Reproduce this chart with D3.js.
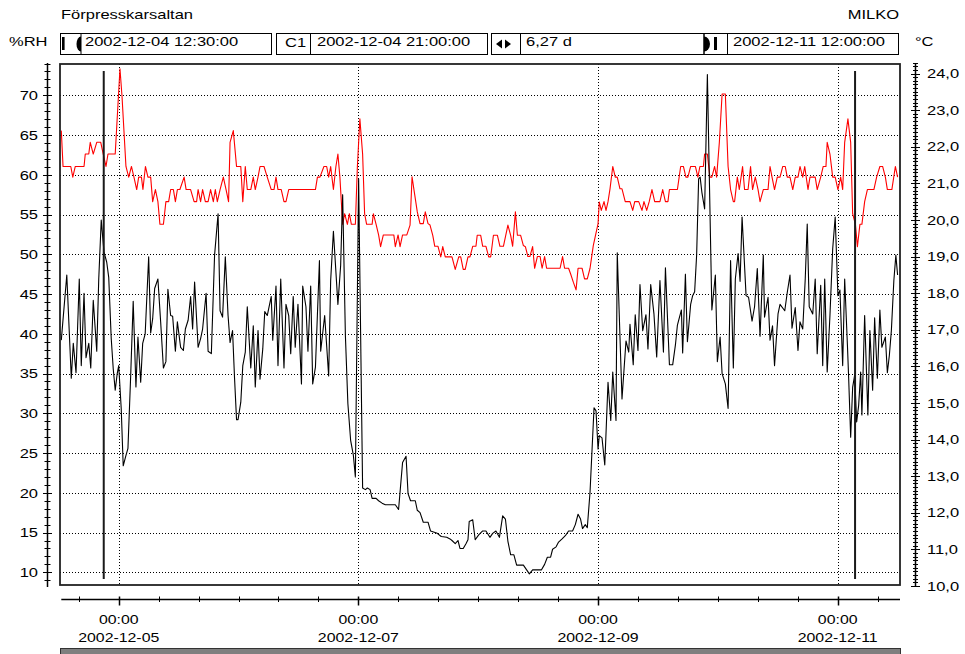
<!DOCTYPE html>
<html>
<head>
<meta charset="utf-8">
<script src="https://cdn.jsdelivr.net/npm/d3@7"></script>
<style>
  html, body { margin: 0; padding: 0; background: #fff; }
  svg { display: block; font-family: "Liberation Sans", Arial, sans-serif; }
</style>
</head>
<body>
<svg id="chart" width="965" height="654"></svg>
<script>
// ---- Logger session: Förpresskarsaltan / MILKO ----
const roomName = "Förpresskarsaltan";
const siteName = "MILKO";
const startStamp = "2002-12-04 12:30:00";
const endStamp = "2002-12-11 12:00:00";
const cursorStamp = "2002-12-04 21:00:00";
const cursorSpanDays = 6.27;

// Hours counted from 2002-12-04 00:00
const rhHours = [12.5,13.6,14.5,14.9,15.45,16.1,16.5,17.05,17.45,18.0,18.4,18.9,19.6,20.0,20.5,21.05,21.6,22.0,22.5,22.9,23.3,23.7,24.0,24.5,24.9,25.45,25.85,26.4,26.9,27.45,27.85,28.4,28.8,29.3,30.0,30.4,30.8,31.2,31.85,32.4,32.95,33.45,33.85,34.4,34.8,35.35,35.75,36.4,36.95,37.35,37.9,38.4,38.8,39.2,39.9,40.4,40.8,41.5,41.9,42.55,43.2,43.9,44.3,44.8,45.35,45.9,46.3,46.8,47.2,47.6,47.9,48.45,48.85,49.35,49.75,50.45,50.95,51.35,51.9,52.3,52.85,53.25,53.75,54.55,54.85,55.5,55.9,56.45,57.1,57.5,58.05,58.45,58.95,59.35,59.9,60.6,60.85,61.5,61.9,62.45,62.85,63.4,64.2,64.45,65.25,66.05,66.45,67.0,67.9,68.45,68.85,69.4,69.9,70.45,71.0,71.4,72.05,72.85,73.4,73.8,74.35,74.75,75.55,76.05,76.75,77.4,79.4,80.05,80.85,81.55,81.95,82.45,83.4,83.8,84.35,85.0,85.95,86.45,87.8,88.6,89.7,90.35,90.75,91.4,91.95,92.35,93.0,93.55,93.95,94.2,94.9,95.4,96.1,96.9,97.55,98.35,98.9,99.55,100.25,100.9,101.45,101.95,102.5,103.15,103.7,105.05,105.7,106.25,106.9,108.65,109.3,109.85,110.5,110.9,111.6,112.1,112.8,113.45,114.1,114.9,115.45,116.0,116.5,116.9,117.45,117.85,118.4,119.2,119.6,120.0,120.25,120.8,121.35,122.0,122.55,122.95,123.6,123.85,124.8,125.6,126.15,126.4,127.05,127.45,128.0,128.4,128.95,129.6,130.0,130.55,131.2,131.75,132.4,133.1,133.5,134.3,134.95,135.5,135.9,136.7,136.95,137.5,137.9,138.55,138.95,139.35,139.75,140.15,140.45,140.8,141.35,141.9,142.8,143.5,143.9,144.45,144.85,145.5,146.05,146.55,147.1,147.5,148.05,148.45,148.85,149.65,150.15,150.85,151.35,151.9,152.45,153.1,153.35,154.05,154.45,154.95,155.35,156.05,156.45,157.4,157.9,158.45,158.85,159.5,160.05,160.45,161.0,161.5,161.9,162.3,163.0,163.5,163.9,164.6,165.0,165.4,165.9,166.45,167.0,167.5,168.05,168.45,169.0,169.4,169.95,170.2,170.6,171.0,171.4,171.8,172.2,172.6,172.85,173.4,174.05,174.45,175.0,175.4,175.95,176.45,176.85,177.55,177.95,178.35,178.75,179.25,179.65,180.0];
const rhValues = [39.2,47.4,34.4,38.8,35.1,46.9,36.0,45.1,37.0,38.8,35.7,44.2,37.8,46.9,54.3,50.3,49.0,47.1,39.4,35.6,32.9,35.0,36.0,30.6,23.4,24.7,25.6,34.8,44.1,33.3,39.6,33.9,38.8,40.0,49.7,40.1,41.9,45.7,46.9,41.5,35.7,36.5,45.6,42.3,42.2,37.8,41.5,38.3,37.9,40.6,41.7,44.7,40.6,46.5,38.3,39.4,40.6,45.1,37.8,37.5,49.9,55.1,42.9,42.1,49.7,42.3,38.9,40.4,34.4,29.2,29.2,31.4,36.0,37.7,43.4,35.7,41.0,33.3,40.4,34.3,38.1,42.8,42.3,44.7,39.2,46.0,36.0,46.9,35.7,43.7,42.3,37.5,44.7,38.3,43.7,33.7,46.0,43.4,37.8,46.0,33.7,35.8,49.2,37.8,42.3,34.7,46.7,52.9,43.7,48.6,57.5,39.8,31.2,26.6,24.7,22.0,59.5,20.6,20.4,20.6,20.4,19.3,19.3,19.0,18.7,18.5,18.5,17.9,23.8,24.6,19.9,19.0,19.0,17.8,17.5,16.3,16.3,15.2,14.9,14.5,14.4,14.2,14.0,13.6,14.0,13.0,13.0,13.6,14.1,16.4,16.6,14.1,14.7,15.2,15.2,14.4,14.9,15.2,14.4,17.1,16.7,13.9,12.2,12.2,10.9,10.9,10.3,9.8,10.3,10.3,11.0,11.9,11.9,12.9,13.2,13.8,14.2,14.6,15.2,15.2,16.0,17.3,16.7,15.5,16.0,15.6,20.1,30.7,30.3,25.5,27.2,26.9,23.5,33.9,29.1,35.2,29.1,50.2,31.8,39.1,37.7,41.2,36.1,42.4,37.9,46.2,40.4,42.4,38.1,46.2,42.5,37.1,46.7,37.7,48.3,36.1,36.1,38.6,41.1,43.0,37.6,47.5,39.0,43.7,44.8,45.3,49.9,59.5,59.7,57.8,55.7,72.6,43.0,47.4,36.5,39.6,35.0,33.7,30.6,49.2,35.7,46.9,50.1,46.6,54.7,44.8,44.6,41.6,43.4,48.2,39.7,49.9,42.1,44.6,39.2,41.0,36.0,42.5,43.7,42.9,45.2,47.4,40.7,43.3,37.9,41.5,40.6,46.9,53.8,43.4,42.5,46.9,37.5,46.1,36.0,46.9,35.2,42.3,50.7,54.7,44.8,45.5,36.0,46.9,38.6,34.4,27.0,33.3,34.8,28.9,31.0,35.2,29.8,42.3,29.8,40.4,32.9,42.0,34.4,43.0,38.3,39.6,35.1,37.3,40.4,46.7,49.9,47.4];

const tempHours = [12.5,12.85,14.4,14.8,15.3,17.05,17.3,18.0,18.3,18.9,19.6,20.4,20.9,21.45,21.85,23.3,24.25,24.65,25.45,26.0,26.55,27.05,27.6,28.0,28.55,28.85,29.35,29.85,30.4,30.8,31.35,31.85,32.25,32.95,33.45,34.0,34.4,34.95,35.35,35.75,36.25,37.1,37.5,38.4,39.1,39.6,39.9,40.4,40.8,41.35,41.9,42.4,42.95,43.35,43.75,44.3,44.95,45.5,46.0,46.3,46.95,47.6,48.45,48.85,49.35,49.75,50.45,50.95,51.35,51.9,52.3,53.1,53.75,54.55,55.1,55.5,55.9,56.55,57.1,57.5,58.05,63.4,63.8,64.3,65.1,65.65,66.05,66.45,67.0,67.5,67.9,68.3,68.85,69.25,69.8,70.2,70.6,71.4,71.8,72.3,72.85,73.25,73.65,74.2,74.75,75.0,75.55,76.05,76.45,77.0,79.1,79.4,79.95,80.35,80.85,81.7,82.35,82.75,83.25,83.8,84.35,85.0,85.4,85.95,86.35,86.9,87.3,87.95,88.5,88.9,89.4,90.75,91.4,92.1,92.5,93.0,93.4,93.95,94.35,94.9,95.55,95.8,96.5,96.9,97.55,98.1,98.5,99.05,99.85,100.35,101.05,101.95,102.5,102.9,103.45,103.85,104.5,105.05,105.45,105.95,106.35,106.9,107.3,107.85,108.4,108.8,109.3,109.7,112.4,112.9,113.3,114.1,114.5,115.05,115.6,116.0,116.8,117.3,117.85,118.4,119.05,119.7,120.0,120.25,120.65,121.2,121.6,122.0,122.4,122.95,123.45,123.85,124.4,124.8,125.45,126.4,126.95,127.35,128.15,128.8,129.2,129.75,130.25,130.8,131.35,132.4,132.95,133.5,134.0,134.3,135.9,136.55,137.1,137.6,138.0,138.55,139.5,140.0,140.4,141.1,141.35,141.9,142.4,142.8,143.35,143.75,144.3,144.85,145.5,146.05,146.55,147.1,147.35,147.9,148.3,148.95,149.35,150.05,150.55,150.95,151.5,152.05,152.45,153.1,154.05,154.45,154.85,155.35,155.9,156.45,157.0,157.5,157.9,158.45,159.0,159.5,160.05,160.45,161.0,161.4,162.05,162.45,163.5,163.9,164.6,165.1,165.65,165.9,166.45,167.0,167.5,168.05,168.6,169.0,169.4,170.05,170.6,171.0,171.55,171.95,172.45,172.85,173.4,173.95,175.25,175.8,176.45,177.0,177.55,177.95,178.85,179.55,180.0];
const tempValues = [22.44,21.46,21.46,21.17,21.46,21.46,21.80,21.80,22.12,21.80,22.12,22.12,21.80,21.46,21.80,21.80,24.13,23.40,21.46,21.17,21.46,21.17,20.83,21.17,21.17,20.83,21.46,21.17,21.17,20.50,20.83,20.50,19.88,19.88,20.50,20.50,20.83,20.83,20.50,20.83,20.83,21.17,20.83,20.83,20.50,20.50,20.83,20.50,20.83,20.50,20.50,20.83,20.50,20.83,20.50,20.83,21.17,20.83,20.50,22.12,22.44,21.46,21.46,20.50,21.46,20.83,20.83,21.17,20.83,21.17,21.46,21.46,21.17,20.83,20.83,21.17,20.83,20.83,20.50,20.50,20.83,20.83,21.17,21.17,21.46,21.46,21.17,21.46,20.83,21.46,21.80,21.17,19.88,20.17,19.88,20.17,19.88,19.88,21.46,22.76,21.80,20.17,19.88,19.88,19.88,20.17,19.88,19.59,19.27,19.59,19.59,19.27,19.59,19.27,19.59,19.59,19.86,21.18,20.72,20.22,19.90,19.90,20.22,19.90,19.86,19.58,19.28,19.28,18.99,19.27,18.99,18.99,18.65,18.99,18.99,18.65,18.65,18.99,18.99,19.28,19.28,19.58,19.58,19.28,19.28,18.99,18.99,19.58,19.58,19.28,19.28,19.86,19.58,19.28,20.22,19.58,19.58,19.30,19.27,19.00,19.00,19.27,18.68,19.00,19.00,18.68,19.00,18.68,18.68,19.00,18.68,18.68,18.53,18.30,18.09,18.68,18.68,18.39,18.39,18.68,19.30,19.71,19.89,20.49,20.26,20.50,20.26,20.50,20.85,21.46,21.17,21.17,20.85,20.85,20.50,20.50,20.26,20.50,20.50,20.26,20.50,20.26,20.50,20.83,20.50,20.50,20.83,20.50,20.50,20.83,20.83,21.46,21.46,21.17,21.17,21.46,21.46,21.17,21.46,21.46,21.80,21.80,21.17,21.17,21.46,21.17,22.12,23.44,23.44,21.46,20.83,20.50,20.50,21.17,20.83,21.46,20.83,20.83,21.46,20.83,21.17,20.83,20.50,20.83,20.83,21.46,21.17,20.83,21.17,21.17,21.46,21.46,21.17,21.17,20.83,21.17,21.17,21.46,21.17,21.46,20.83,21.17,21.17,20.83,21.17,21.46,21.46,22.12,21.80,21.17,21.17,20.83,21.17,20.83,22.12,22.76,22.12,20.17,19.88,19.27,19.88,19.88,20.50,20.83,20.83,21.17,21.46,21.46,21.17,20.83,20.83,21.46,21.17];

// Axis ticks
const rhTicks = [10, 15, 20, 25, 30, 35, 40, 45, 50, 55, 60, 65, 70];
const tempTicks = [10, 11, 12, 13, 14, 15, 16, 17, 18, 19, 20, 21, 22, 23, 24];
const dateTicks = ["2002-12-05", "2002-12-07", "2002-12-09", "2002-12-11"];

// ---- Drawing ----
const SX = 1.27;              // horizontal stretch of the lettering
const FONT = 13;
const svg = d3.select("#chart");
const parseStamp = d3.utcParse("%Y-%m-%d %H:%M:%S");
const parseDay = d3.utcParse("%Y-%m-%d");
const fmtStamp = d3.utcFormat("%Y-%m-%d %H:%M:%S");
const dayZero = parseDay("2002-12-04").getTime();
const hourDate = h => new Date(dayZero + h * 3600e3);
const comma = (v, d) => v.toFixed(d).replace(".", ",");

const plot = { left: 60, top: 64, right: 900, bottom: 585 };

const x = d3.scaleUtc()
  .domain([parseStamp(startStamp), parseStamp(endStamp)])
  .range([61.3, 897.6]);
const yRH = d3.scaleLinear().domain([10, 70]).range([572.3, 95.3]);
const yT = d3.scaleLinear().domain([10, 24]).range([586, 73.5]);

function label(g, str, px, py, anchor, size) {
  return g.append("text")
    .attr("transform", `translate(${px},${py}) scale(${SX},1)`)
    .attr("text-anchor", anchor || "start")
    .attr("font-size", size || FONT)
    .attr("fill", "#000")
    .text(str);
}

// Header
const head = svg.append("g");
label(head, roomName, 61, 18.5);
label(head, siteName, 899, 18.5, "end");
label(head, "%RH", 9, 46);
label(head, "°C", 915, 46);

const boxY = 33.5, boxH = 21;
function box(x0, x1, divider) {
  head.append("rect").attr("x", x0).attr("y", boxY).attr("width", x1 - x0).attr("height", boxH)
    .attr("fill", "none").attr("stroke", "#000").attr("stroke-width", 1);
  if (divider) head.append("line").attr("x1", divider).attr("x2", divider)
    .attr("y1", boxY).attr("y2", boxY + boxH).attr("stroke", "#000");
}
// start marker box
box(60.5, 271.5);
head.append("rect").attr("x", 62).attr("y", 37).attr("width", 2.6).attr("height", 13).attr("fill", "#000");
head.append("path").attr("d", "M81,36.5 A4.5,7.5 0 0 0 81,51.5 Z").attr("fill", "#000");
head.append("line").attr("x1", 81).attr("x2", 81).attr("y1", boxY).attr("y2", boxY + boxH).attr("stroke", "#000");
label(head, fmtStamp(parseStamp(startStamp)), 85, 46);
// cursor box
box(276.5, 487.5, 310.5);
label(head, "C1", 285, 47);
label(head, fmtStamp(parseStamp(cursorStamp)), 317, 46);
// span box
box(491.5, 704, 520.5);
head.append("path").attr("d", "M496,44 L502,39.5 L502,48.5 Z").attr("fill", "#000");
head.append("path").attr("d", "M511,44 L505,39.5 L505,48.5 Z").attr("fill", "#000");
label(head, comma(cursorSpanDays, 2) + " d", 526, 46);
// end marker box
box(704, 898.5, 727.5);
head.append("path").attr("d", "M704,36.5 A6,7.5 0 0 1 704,51.5 Z").attr("fill", "#000");
head.append("rect").attr("x", 714).attr("y", 37).attr("width", 3).attr("height", 13).attr("fill", "#000");
label(head, fmtStamp(parseStamp(endStamp)), 733, 46);

// Grid
const grid = svg.append("g").attr("stroke", "#000").attr("stroke-width", 1).attr("stroke-dasharray", "1,2");
rhTicks.forEach(v => {
  const yy = Math.round(yRH(v)) + 0.5;
  grid.append("line").attr("x1", plot.left).attr("x2", plot.right).attr("y1", yy).attr("y2", yy);
});
dateTicks.forEach(d => {
  const xx = Math.round(x(parseDay(d))) + 0.5;
  grid.append("line").attr("x1", xx).attr("x2", xx).attr("y1", plot.top).attr("y2", plot.bottom);
});

// Series
svg.append("clipPath").attr("id", "plotClip").append("rect")
  .attr("x", plot.left).attr("y", plot.top).attr("width", plot.right - plot.left).attr("height", plot.bottom - plot.top);
const series = svg.append("g").attr("clip-path", "url(#plotClip)");

const rhLine = d3.line().x((h) => x(hourDate(h))).y((h, i) => yRH(rhValues[i]));
const tLine = d3.line().x((h) => x(hourDate(h))).y((h, i) => yT(tempValues[i]));

series.append("path").attr("d", tLine(tempHours)).attr("fill", "none")
  .attr("stroke", "#ff0000").attr("stroke-width", 1.1).attr("stroke-linejoin", "round");
series.append("path").attr("d", rhLine(rhHours)).attr("fill", "none")
  .attr("stroke", "#000").attr("stroke-width", 1.1).attr("stroke-linejoin", "round");

// Cursors
const c1 = parseStamp(cursorStamp);
const c2 = new Date(c1.getTime() + cursorSpanDays * 86400e3);
[c1, c2].forEach(d => {
  svg.append("line").attr("x1", x(d)).attr("x2", x(d)).attr("y1", 71).attr("y2", 579)
    .attr("stroke", "#1a1a1a").attr("stroke-width", 2);
});

// Frame
svg.append("rect").attr("x", plot.left).attr("y", plot.top)
  .attr("width", plot.right - plot.left).attr("height", plot.bottom - plot.top)
  .attr("fill", "none").attr("stroke", "#222").attr("stroke-width", 1.8);

// Left ruler (%RH)
const leftX = 47.5, rulerTop = 63, rulerBottom = 587;
const lg = svg.append("g").attr("stroke", "#000").attr("stroke-width", 1);
lg.append("line").attr("x1", leftX).attr("x2", leftX).attr("y1", rulerTop).attr("y2", rulerBottom).attr("stroke-width", 1.5);
d3.range(8, 75).forEach(v => {
  const yy = yRH(v);
  if (yy < rulerTop - 0.5 || yy > rulerBottom + 0.5) return;
  const major = v % 5 === 0;
  lg.append("line").attr("x1", leftX - (major ? 4.5 : 3)).attr("x2", leftX + (major ? 4.5 : 3))
    .attr("y1", Math.round(yy) + 0.5).attr("y2", Math.round(yy) + 0.5);
});
rhTicks.forEach(v => label(svg, String(v), 38, yRH(v) + 4.7, "end"));

// Right ruler (°C)
const rightX = 915.5;
const rg = svg.append("g").attr("stroke", "#000").attr("stroke-width", 1);
rg.append("line").attr("x1", rightX).attr("x2", rightX).attr("y1", rulerTop).attr("y2", rulerBottom).attr("stroke-width", 1.5);
d3.range(99, 244).forEach(k => {
  const v = k / 10, yy = yT(v);
  if (yy < rulerTop - 0.5 || yy > rulerBottom + 0.5) return;
  const major = k % 10 === 0;
  rg.append("line").attr("x1", rightX - (major ? 4.5 : 2.5)).attr("x2", rightX + (major ? 4.5 : 2.5))
    .attr("y1", Math.round(yy) + 0.5).attr("y2", Math.round(yy) + 0.5);
});
tempTicks.forEach(v => label(svg, comma(v, 1), 927, yT(v) + 4.7, "start"));

// Time ruler
const axisY = 599.5;
const bg = svg.append("g").attr("stroke", "#000").attr("stroke-width", 1);
bg.append("line").attr("x1", 61.3).attr("x2", 900).attr("y1", axisY).attr("y2", axisY).attr("stroke-width", 1.5);
const t0 = parseStamp(startStamp), t1 = parseStamp(endStamp);
d3.utcHour.every(8).range(t0, t1).forEach(d => {
  const major = dateTicks.includes(d3.utcFormat("%Y-%m-%d")(d)) && d.getUTCHours() === 0;
  const xx = Math.round(x(d)) + 0.5;
  bg.append("line").attr("x1", xx).attr("x2", xx)
    .attr("y1", axisY - 3).attr("y2", axisY + (major ? 6 : 2.5))
    .attr("stroke-width", major ? 1.5 : 1);
});
dateTicks.forEach(dstr => {
  const d = parseDay(dstr);
  label(svg, d3.utcFormat("%H:%M")(d), x(d), 624, "middle", 12.5);
  label(svg, dstr, x(d), 642, "middle", 12.5);
});

// Scroll strip along the bottom
svg.append("rect").attr("x", 60.5).attr("y", 648.5).attr("width", 840).attr("height", 10)
  .attr("fill", "#7f7f7f").attr("stroke", "#333").attr("stroke-width", 1);
</script>
</body>
</html>
